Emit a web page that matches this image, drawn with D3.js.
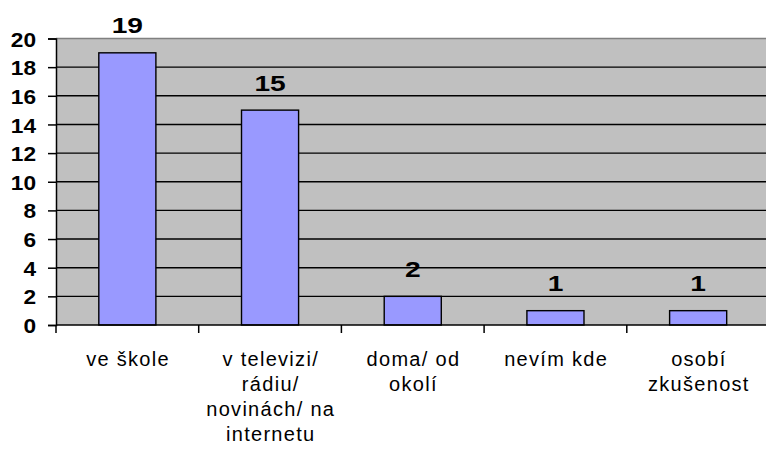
<!DOCTYPE html>
<html>
<head>
<meta charset="utf-8">
<script src="https://cdn.jsdelivr.net/npm/d3@7"></script>
<style>
  body { margin: 0; background: #fff; }
  svg { display: block; font-family: "Liberation Sans", Arial, sans-serif; }
</style>
</head>
<body>
<div id="vis"></div>
<script>
// categories (each split into its printed lines) and values
var categories = ["ve škole", "v televizi/ rádiu/ novinách/ na internetu", "doma/ od okolí", "nevím kde", "osobí zkušenost"];
var categoryLines = [
  ["ve škole"],
  ["v televizi/", "rádiu/", "novinách/ na", "internetu"],
  ["doma/ od", "okolí"],
  ["nevím kde"],
  ["osobí", "zkušenost"]
];
var values = [19, 15, 2, 1, 1];
var yTicks = [0, 2, 4, 6, 8, 10, 12, 14, 16, 18, 20];

var width = 766;
var height = 454;
var plot = { left: 56, right: 769.5, top: 38.5, bottom: 325 };

var svg = d3.select('#vis')
  .append('svg')
  .attr('width', width)
  .attr('height', height);

var x = d3.scaleBand()
  .domain(categories)
  .range([plot.left, plot.right])
  .paddingInner(0.6)
  .paddingOuter(0.3);

var y = d3.scaleLinear()
  .domain([0, 20])
  .range([plot.bottom, plot.top]);

// plot background
svg.append('rect')
  .attr('x', plot.left)
  .attr('y', plot.top)
  .attr('width', plot.right - plot.left)
  .attr('height', plot.bottom - plot.top)
  .attr('fill', '#c0c0c0');

// gridlines
svg.selectAll('.grid')
  .data(yTicks.filter(function (d) { return d > 0 && d < 20; }))
  .enter().append('line')
  .attr('class', 'grid')
  .attr('x1', plot.left)
  .attr('x2', plot.right)
  .attr('y1', function (d) { return y(d); })
  .attr('y2', function (d) { return y(d); })
  .attr('stroke', '#000')
  .attr('stroke-width', 1.4);

// top border
svg.append('line')
  .attr('x1', plot.left).attr('x2', plot.right)
  .attr('y1', plot.top).attr('y2', plot.top)
  .attr('stroke', '#808080')
  .attr('stroke-width', 1.5);

// bars
svg.selectAll('.bar')
  .data(values)
  .enter().append('rect')
  .attr('class', 'bar')
  .attr('x', function (d, i) { return x(categories[i]); })
  .attr('y', function (d) { return y(d); })
  .attr('width', x.bandwidth())
  .attr('height', function (d) { return y(0) - y(d); })
  .attr('fill', '#9999ff')
  .attr('stroke', '#000')
  .attr('stroke-width', 1.4);

// value labels (the original glyphs are a bit wider than they are tall)
svg.selectAll('.val')
  .data(values)
  .enter().append('text')
  .attr('class', 'val')
  .attr('transform', function (d, i) {
    var cx = x(categories[i]) + x.bandwidth() / 2;
    return 'translate(' + cx + ',' + (y(d) - 19.5) + ') scale(1.28,1)';
  })
  .attr('text-anchor', 'middle')
  .attr('font-size', 22)
  .attr('font-weight', 'bold')
  .text(function (d) { return d; });

// y axis
var yAxis = d3.axisLeft(y)
  .tickValues(yTicks)
  .tickSize(8)
  .tickPadding(12);

var yg = svg.append('g')
  .attr('transform', 'translate(' + plot.left + ',0)')
  .call(yAxis);
yg.select('.domain').attr('stroke', '#000').attr('stroke-width', 1.5);
yg.selectAll('.tick line').attr('stroke', '#000').attr('stroke-width', 1.5);
yg.selectAll('.tick text')
  .attr('font-family', '"Liberation Sans", Arial, sans-serif')
  .attr('font-size', 21)
  .attr('font-weight', 'bold')
  .attr('fill', '#000')
  .attr('transform', 'translate(-21,0) scale(1.08,1) translate(21,0)')
  .attr('dy', '0.36em');

// x axis line and tick marks at category boundaries
svg.append('line')
  .attr('x1', plot.left).attr('x2', plot.right)
  .attr('y1', plot.bottom).attr('y2', plot.bottom)
  .attr('stroke', '#000')
  .attr('stroke-width', 1.5);

var step = x.step();
svg.selectAll('.xtick')
  .data(d3.range(categories.length + 1))
  .enter().append('line')
  .attr('class', 'xtick')
  .attr('x1', function (i) { return plot.left + i * step; })
  .attr('x2', function (i) { return plot.left + i * step; })
  .attr('y1', plot.bottom)
  .attr('y2', plot.bottom + 8)
  .attr('stroke', '#000')
  .attr('stroke-width', 1.5);

// category labels
var cat = svg.selectAll('.cat')
  .data(categoryLines)
  .enter().append('text')
  .attr('class', 'cat')
  .attr('text-anchor', 'middle')
  .attr('font-size', 20)
  .attr('letter-spacing', 1.3)
  .attr('fill', '#000');

cat.each(function (lines, i) {
  var cx = x(categories[i]) + x.bandwidth() / 2 + 0.7;
  d3.select(this).selectAll('tspan')
    .data(lines)
    .enter().append('tspan')
    .attr('x', cx)
    .attr('y', function (d, j) { return 366 + j * 25; })
    .text(function (d) { return d; });
});
</script>
</body>
</html>
